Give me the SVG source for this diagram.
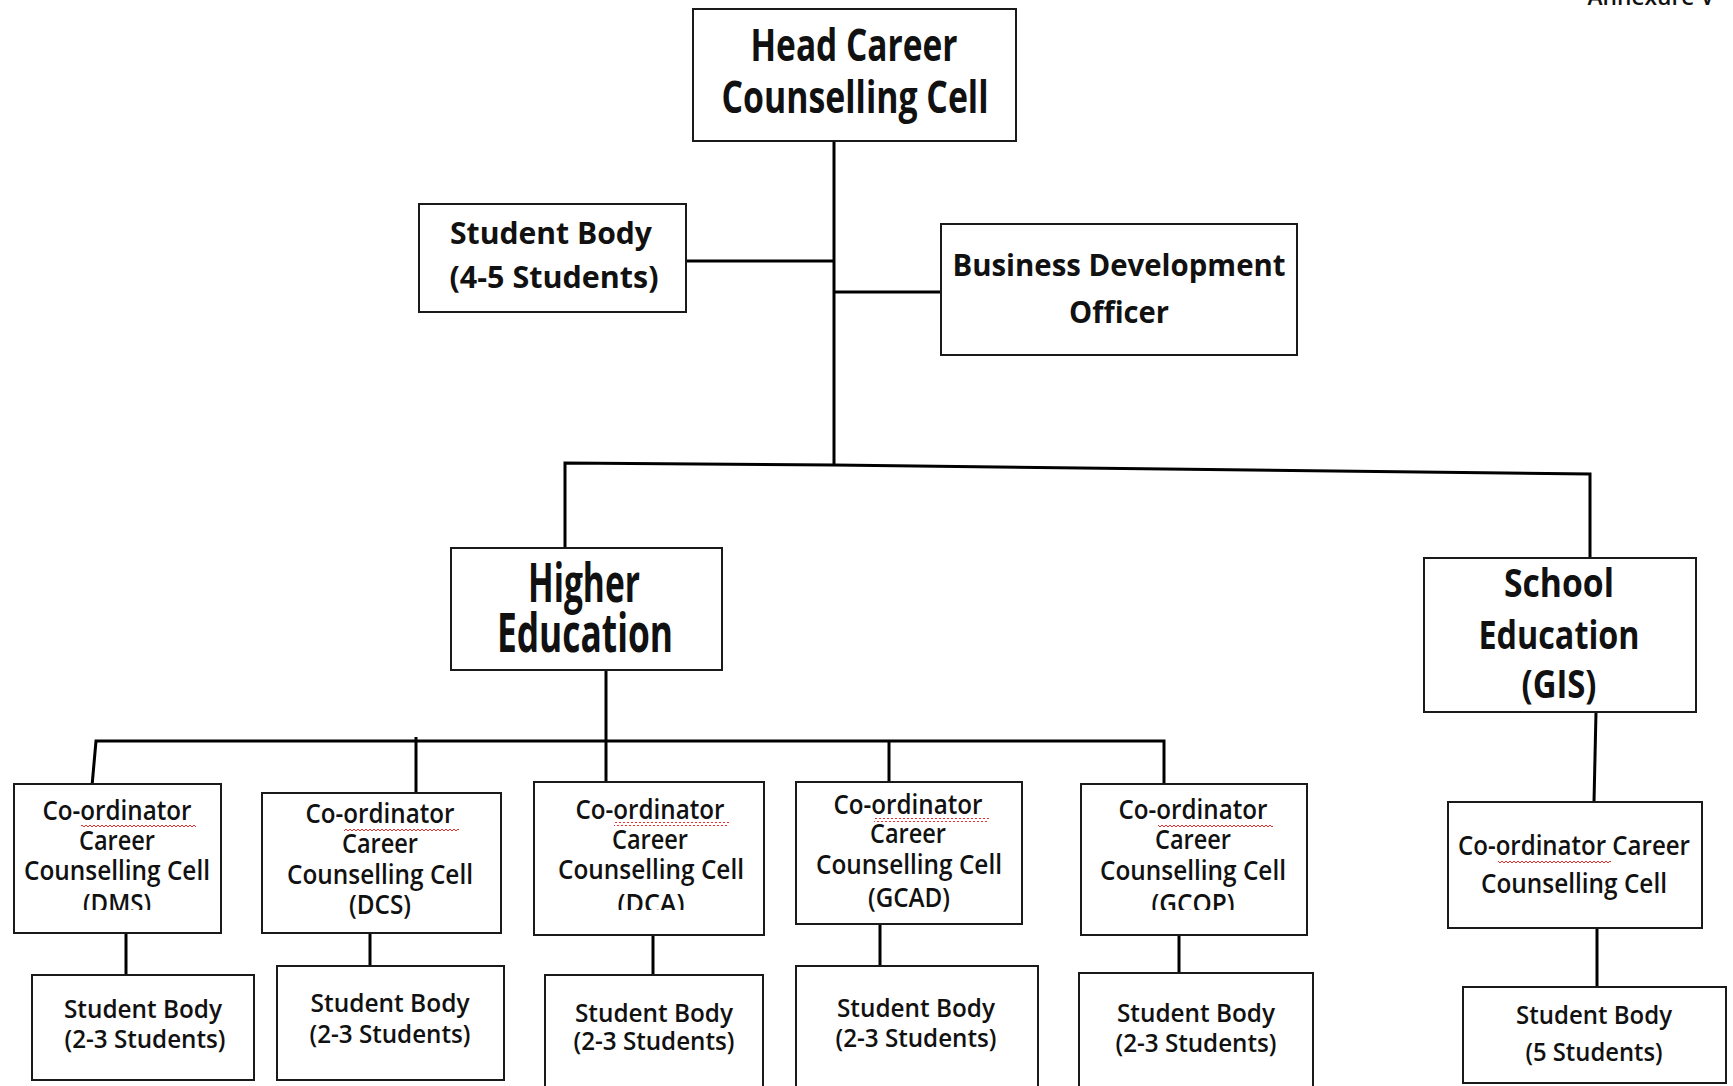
<svg xmlns="http://www.w3.org/2000/svg" width="1733" height="1086" viewBox="0 0 1733 1086">
<style>
.box{fill:#fff;stroke:#1a1a1a;stroke-width:2}
.t{font-family:"Open Sans","Noto Sans","Liberation Sans",sans-serif;font-weight:600;fill:#111;text-anchor:middle}
.b{font-weight:700}
.h1{font-size:44px}
.h2{font-size:54px}
.h3{font-size:40px}
.m{font-size:31px}
.c{font-size:27px}
.s{font-size:26px}
.conn path{fill:none;stroke:#000;stroke-width:3;stroke-linejoin:miter}
</style>
<defs>
<pattern id="sq" x="0" y="0" width="4" height="4" patternUnits="userSpaceOnUse">
<path d="M0,3 L2,1 L4,3" fill="none" stroke="#e8312f" stroke-width="1"/>
</pattern>
<clipPath id="clipA"><rect x="0" y="0" width="1733" height="910"/></clipPath>
</defs>
<rect width="1733" height="1086" fill="#fff"/>

<text class="t" x="1651" y="5" font-size="24" textLength="127" lengthAdjust="spacingAndGlyphs">Annexure V</text>

<g class="conn" id="connectors">
<path d="M834,141 V465"/>
<path d="M686,261 H834"/>
<path d="M834,292 H942"/>
<path d="M565,549 V463 L834,465 L1590,474 V558"/>
<path d="M606,670 V782"/>
<path d="M92,786 L96,741 H1164 V784"/>
<path d="M416,737 V793"/>
<path d="M889,741 V782"/>
<path d="M1596,712 L1594,802"/>
<path d="M126,933 V975"/>
<path d="M370,933 V966"/>
<path d="M653,935 V975"/>
<path d="M880,924 V966"/>
<path d="M1179,935 V973"/>
<path d="M1597,921 V987"/>
</g>

<g id="head">
<rect class="box" x="693" y="9" width="323" height="132"/>
<text class="t b h1" x="854" y="61" textLength="207" lengthAdjust="spacingAndGlyphs">Head Career</text>
<text class="t b h1" x="855" y="113" textLength="267" lengthAdjust="spacingAndGlyphs">Counselling Cell</text>
</g>

<g id="student-body-main">
<rect class="box" x="419" y="204" width="267" height="108"/>
<text class="t b" font-size="30" x="551" y="244" textLength="202" lengthAdjust="spacingAndGlyphs">Student Body</text>
<text class="t b" font-size="30" x="554" y="288" textLength="209" lengthAdjust="spacingAndGlyphs">(4-5 Students)</text>
</g>

<g id="bdo">
<rect class="box" x="941" y="224" width="356" height="131"/>
<text class="t b m" x="1119" y="276" textLength="333" lengthAdjust="spacingAndGlyphs">Business Development</text>
<text class="t b m" x="1119" y="323" textLength="100" lengthAdjust="spacingAndGlyphs">Officer</text>
</g>

<g id="higher-education">
<rect class="box" x="451" y="548" width="271" height="122"/>
<text class="t b h2" x="584" y="602" textLength="112" lengthAdjust="spacingAndGlyphs">Higher</text>
<text class="t b h2" x="585" y="652" textLength="176" lengthAdjust="spacingAndGlyphs">Education</text>
</g>

<g id="school-education">
<rect class="box" x="1424" y="558" width="272" height="154"/>
<text class="t b h3" x="1559" y="597" textLength="110" lengthAdjust="spacingAndGlyphs">School</text>
<text class="t b h3" x="1559" y="649" textLength="161" lengthAdjust="spacingAndGlyphs">Education</text>
<text class="t b h3" x="1559" y="698" textLength="75" lengthAdjust="spacingAndGlyphs">(GIS)</text>
</g>

<g id="coord-dms">
<rect class="box" x="14" y="784" width="207" height="149"/>
<g clip-path="url(#clipA)">
<text class="t c" x="117" y="820" textLength="149" lengthAdjust="spacingAndGlyphs">Co-ordinator</text>
<text class="t c" x="117" y="850" textLength="76" lengthAdjust="spacingAndGlyphs">Career</text>
<text class="t c" x="117" y="880" textLength="186" lengthAdjust="spacingAndGlyphs">Counselling Cell</text>
<text class="t c" x="117" y="913" textLength="68" lengthAdjust="spacingAndGlyphs">(DMS)</text>
</g>
<rect x="81" y="823" width="115" height="4" fill="url(#sq)"/>
</g>

<g id="coord-dcs">
<rect class="box" x="262" y="793" width="239" height="140"/>
<text class="t c" x="380" y="823" textLength="149" lengthAdjust="spacingAndGlyphs">Co-ordinator</text>
<text class="t c" x="380" y="853" textLength="76" lengthAdjust="spacingAndGlyphs">Career</text>
<text class="t c" x="380" y="884" textLength="186" lengthAdjust="spacingAndGlyphs">Counselling Cell</text>
<text class="t c" x="380" y="914" textLength="62" lengthAdjust="spacingAndGlyphs">(DCS)</text>
<rect x="344" y="827" width="115" height="4" fill="url(#sq)"/>
</g>

<g id="coord-dca">
<rect class="box" x="534" y="782" width="230" height="153"/>
<g clip-path="url(#clipA)">
<text class="t c" x="650" y="819" textLength="149" lengthAdjust="spacingAndGlyphs">Co-ordinator</text>
<text class="t c" x="650" y="849" textLength="76" lengthAdjust="spacingAndGlyphs">Career</text>
<text class="t c" x="651" y="879" textLength="186" lengthAdjust="spacingAndGlyphs">Counselling Cell</text>
<text class="t c" x="651" y="913" textLength="67" lengthAdjust="spacingAndGlyphs">(DCA)</text>
</g>
<rect x="614" y="822" width="115" height="4" fill="url(#sq)"/>
</g>

<g id="coord-gcad">
<rect class="box" x="796" y="782" width="226" height="142"/>
<text class="t c" x="908" y="814" textLength="149" lengthAdjust="spacingAndGlyphs">Co-ordinator</text>
<text class="t c" x="908" y="843" textLength="76" lengthAdjust="spacingAndGlyphs">Career</text>
<text class="t c" x="909" y="874" textLength="186" lengthAdjust="spacingAndGlyphs">Counselling Cell</text>
<text class="t c" x="909" y="907" textLength="82" lengthAdjust="spacingAndGlyphs">(GCAD)</text>
<rect x="874" y="818" width="115" height="4" fill="url(#sq)"/>
</g>

<g id="coord-gcop">
<rect class="box" x="1081" y="784" width="226" height="151"/>
<g clip-path="url(#clipA)">
<text class="t c" x="1193" y="819" textLength="149" lengthAdjust="spacingAndGlyphs">Co-ordinator</text>
<text class="t c" x="1193" y="849" textLength="76" lengthAdjust="spacingAndGlyphs">Career</text>
<text class="t c" x="1193" y="880" textLength="186" lengthAdjust="spacingAndGlyphs">Counselling Cell</text>
<text class="t c" x="1193" y="913" textLength="83" lengthAdjust="spacingAndGlyphs">(GCOP)</text>
</g>
<rect x="1158" y="824" width="115" height="4" fill="url(#sq)"/>
</g>

<g id="coord-school">
<rect class="box" x="1448" y="802" width="254" height="126"/>
<text class="t" font-size="27" x="1574" y="855" textLength="232" lengthAdjust="spacingAndGlyphs">Co-ordinator Career</text>
<text class="t" font-size="27" x="1574" y="893" textLength="186" lengthAdjust="spacingAndGlyphs">Counselling Cell</text>
<rect x="1498" y="861" width="113" height="4" fill="url(#sq)"/>
</g>

<g id="sb-dms">
<rect class="box" x="32" y="975" width="222" height="105"/>
<text class="t s" x="143" y="1018" textLength="158" lengthAdjust="spacingAndGlyphs">Student Body</text>
<text class="t s" x="145" y="1048" textLength="161" lengthAdjust="spacingAndGlyphs">(2-3 Students)</text>
</g>

<g id="sb-dcs">
<rect class="box" x="277" y="966" width="227" height="114"/>
<text class="t s" x="390" y="1012" textLength="159" lengthAdjust="spacingAndGlyphs">Student Body</text>
<text class="t s" x="390" y="1043" textLength="161" lengthAdjust="spacingAndGlyphs">(2-3 Students)</text>
</g>

<g id="sb-dca">
<rect class="box" x="545" y="975" width="218" height="120"/>
<text class="t s" x="654" y="1022" textLength="158" lengthAdjust="spacingAndGlyphs">Student Body</text>
<text class="t s" x="654" y="1050" textLength="161" lengthAdjust="spacingAndGlyphs">(2-3 Students)</text>
</g>

<g id="sb-gcad">
<rect class="box" x="796" y="966" width="242" height="130"/>
<text class="t s" x="916" y="1017" textLength="158" lengthAdjust="spacingAndGlyphs">Student Body</text>
<text class="t s" x="916" y="1047" textLength="161" lengthAdjust="spacingAndGlyphs">(2-3 Students)</text>
</g>

<g id="sb-gcop">
<rect class="box" x="1079" y="973" width="234" height="123"/>
<text class="t s" x="1196" y="1022" textLength="158" lengthAdjust="spacingAndGlyphs">Student Body</text>
<text class="t s" x="1196" y="1052" textLength="161" lengthAdjust="spacingAndGlyphs">(2-3 Students)</text>
</g>

<g id="sb-school">
<rect class="box" x="1463" y="987" width="263" height="96"/>
<text class="t" font-size="25" x="1594" y="1024" textLength="156" lengthAdjust="spacingAndGlyphs">Student Body</text>
<text class="t" font-size="25" x="1594" y="1061" textLength="137" lengthAdjust="spacingAndGlyphs">(5 Students)</text>
</g>
</svg>
